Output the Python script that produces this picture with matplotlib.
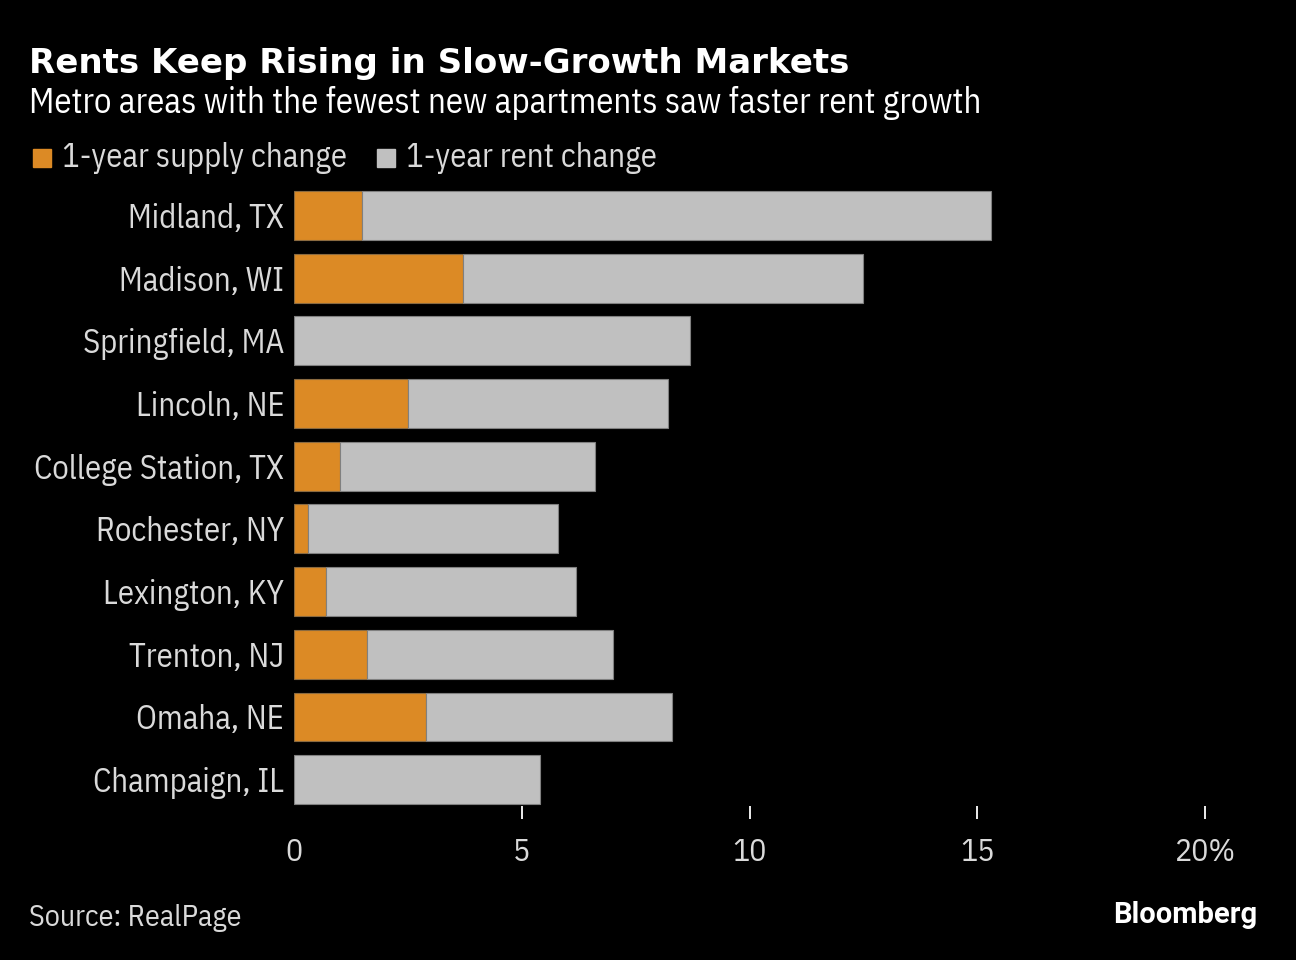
import matplotlib
matplotlib.use("Agg")
import matplotlib.pyplot as plt
import numpy as np

# data (percent)
metros = ['Midland, TX', 'Madison, WI', 'Springfield, MA', 'Lincoln, NE',
          'College Station, TX', 'Rochester, NY', 'Lexington, KY',
          'Trenton, NJ', 'Omaha, NE', 'Champaign, IL']
supply_change = [1.5, 3.7, 0.0, 2.5, 1.0, 0.3, 0.7, 1.6, 2.9, 0.0]
rent_change = [13.8, 8.8, 8.7, 5.7, 5.6, 5.5, 5.5, 5.4, 5.4, 5.4]
xticks = [0, 5, 10, 15, 20]
xtick_labels = ['0', '5', '10', '15', '20%']

orange = '#DC8A25'
gray = '#C0C0C0'
txt = '#DADADA'

plt.rcParams['font.family'] = ['IBM Plex Sans Condensed', 'DejaVu Sans']

fig = plt.figure(figsize=(12.96, 9.6), dpi=100, facecolor='black')
ax = fig.add_axes([294 / 1296, 1 - 806 / 960, (1212 - 294) / 1296, (806 - 184) / 960])
ax.set_facecolor('black')

y = np.arange(len(metros))
ax.barh(y, supply_change, height=0.78, color=orange, edgecolor='#8a6a40', linewidth=0.8)
ax.barh(y, rent_change, left=supply_change, height=0.78, color=gray,
        edgecolor='#808080', linewidth=0.8)

ax.set_ylim(len(metros) - 0.58, -0.5)
ax.set_xlim(0, 20.15)
ax.set_yticks(y)
ax.set_yticklabels(metros, fontsize=23.5, color=txt)
ax.set_xticks(xticks)
ax.set_xticklabels(xtick_labels, fontsize=23, color=txt)
ax.tick_params(axis='y', length=0, pad=7)
ax.tick_params(axis='x', length=9, width=1.3, color='white', direction='out', pad=13)
for s in ax.spines.values():
    s.set_visible(False)
ax.xaxis.get_major_ticks()[0].tick1line.set_visible(False)

fig.text(29 / 1296, 1 - 64 / 960, 'Rents Keep Rising in Slow-Growth Markets',
         fontsize=24.5, fontweight='bold', color='white', va='center',
         family='DejaVu Sans')
fig.text(29 / 1296, 1 - 103 / 960,
         'Metro areas with the fewest new apartments saw faster rent growth',
         fontsize=25, color='white', va='center')

# legend drawn by hand
fig.patches.append(plt.Rectangle((33 / 1296, 1 - 167 / 960), 18 / 1296, 18 / 960,
                                 color=orange, transform=fig.transFigure))
fig.text(62 / 1296, 1 - 158 / 960, '1-year supply change', fontsize=23.5, color=txt, va='center')
fig.patches.append(plt.Rectangle((377 / 1296, 1 - 167 / 960), 18 / 1296, 18 / 960,
                                 color=gray, transform=fig.transFigure))
fig.text(406 / 1296, 1 - 158 / 960, '1-year rent change', fontsize=23.5, color=txt, va='center')

fig.text(29 / 1296, 1 - 918 / 960, 'Source: RealPage', fontsize=21.5, color=txt, va='center')
fig.text(1257 / 1296, 1 - 915 / 960, 'Bloomberg', fontsize=21, fontweight='bold',
         color='white', va='center', ha='right', family=['Roboto', 'DejaVu Sans'])

fig.savefig('out.png', dpi=100, facecolor='black')
